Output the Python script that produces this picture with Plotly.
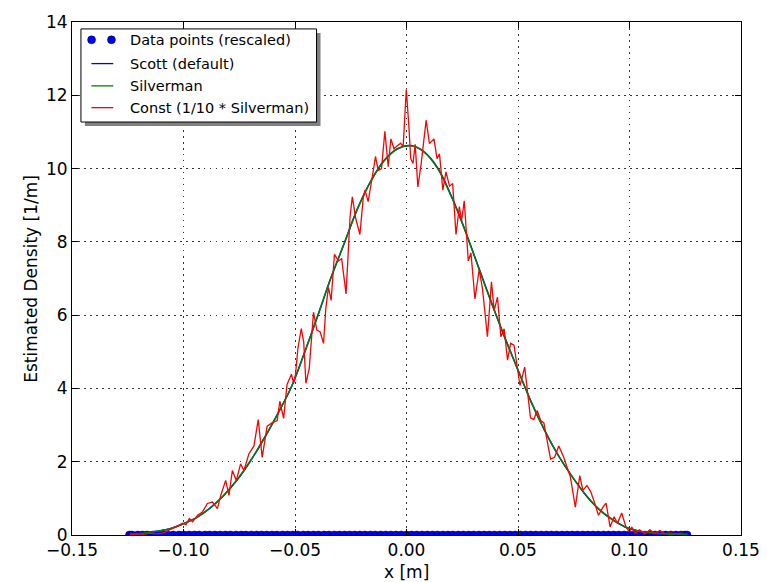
import plotly.graph_objects as go

# ---------------- data ----------------
data_x = [-0.1242, -0.1231, -0.1205, -0.1184, -0.1163, -0.1137, -0.1112, -0.1090, -0.1071, -0.1046,
          -0.1020, -0.0998, -0.0975, -0.0951, -0.0930, -0.0904, -0.0883, -0.0859, -0.0836, -0.0812,
          -0.0790, -0.0765, -0.0741, -0.0720, -0.0696, -0.0672, -0.0650, -0.0627, -0.0603, -0.0581,
          -0.0556, -0.0533, -0.0510, -0.0488, -0.0463, -0.0441, -0.0417, -0.0395, -0.0370, -0.0348,
          -0.0324, -0.0301, -0.0278, -0.0255, -0.0232, -0.0209, -0.0186, -0.0162, -0.0140, -0.0116,
          -0.0093, -0.0070, -0.0047, -0.0024, 0.0000, 0.0023, 0.0046, 0.0070, 0.0093, 0.0116,
          0.0139, 0.0163, 0.0186, 0.0208, 0.0232, 0.0255, 0.0279, 0.0301, 0.0325, 0.0348,
          0.0371, 0.0394, 0.0418, 0.0441, 0.0464, 0.0487, 0.0511, 0.0534, 0.0557, 0.0580,
          0.0604, 0.0627, 0.0650, 0.0673, 0.0697, 0.0720, 0.0743, 0.0766, 0.0790, 0.0813,
          0.0836, 0.0859, 0.0883, 0.0906, 0.0929, 0.0952, 0.0976, 0.0999, 0.1022, 0.1045,
          0.1069, 0.1092, 0.1115, 0.1138, 0.1162, 0.1185, 0.1208, 0.1231, 0.1248, 0.1258]
data_y = [0.0] * len(data_x)

smooth_x = [-0.124, -0.118, -0.112, -0.106, -0.100, -0.094, -0.088, -0.082, -0.076, -0.070,
            -0.064, -0.058, -0.052, -0.046, -0.040, -0.034, -0.028, -0.022, -0.016, -0.010,
            -0.004, 0.002, 0.008, 0.014, 0.020, 0.026, 0.032, 0.038, 0.044, 0.050,
            0.056, 0.062, 0.068, 0.074, 0.080, 0.086, 0.092, 0.098, 0.104, 0.110,
            0.116, 0.122, 0.126]
scott_y = [0.02, 0.05, 0.10, 0.17, 0.31, 0.48, 0.74, 1.08, 1.50, 2.02,
           2.62, 3.28, 3.99, 4.93, 5.95, 7.00, 7.95, 8.90, 9.66, 10.22,
           10.54, 10.63, 10.45, 10.02, 9.27, 8.36, 7.36, 6.36, 5.40, 4.50,
           3.62, 2.85, 2.18, 1.62, 1.12, 0.72, 0.43, 0.22, 0.11, 0.06,
           0.03, 0.02, 0.02]
silverman_y = [0.02, 0.05, 0.10, 0.17, 0.31, 0.48, 0.74, 1.08, 1.50, 2.02,
               2.62, 3.28, 3.99, 4.93, 5.95, 7.00, 7.95, 8.90, 9.66, 10.22,
               10.54, 10.62, 10.45, 10.00, 9.25, 8.35, 7.35, 6.35, 5.40, 4.50,
               3.62, 2.85, 2.18, 1.62, 1.12, 0.72, 0.43, 0.22, 0.11, 0.06,
               0.03, 0.02, 0.02]

const_x = [-0.1240, -0.1210, -0.1180, -0.1150, -0.1120, -0.1090, -0.1063, -0.1033, -0.1004, -0.0989,
           -0.0974, -0.0959, -0.0937, -0.0915, -0.0893, -0.0870, -0.0848, -0.0833, -0.0811, -0.0796,
           -0.0781, -0.0763, -0.0744, -0.0729, -0.0707, -0.0684, -0.0665, -0.0647, -0.0625, -0.0603,
           -0.0580, -0.0568, -0.0551, -0.0536, -0.0516, -0.0506, -0.0498, -0.0487, -0.0472, -0.0461,
           -0.0451, -0.0436, -0.0417, -0.0402, -0.0387, -0.0372, -0.0362, -0.0350, -0.0338, -0.0323,
           -0.0305, -0.0291, -0.0271, -0.0253, -0.0243, -0.0228, -0.0209, -0.0194, -0.0186, -0.0172,
           -0.0157, -0.0139, -0.0127, -0.0112, -0.0097, -0.0082, -0.0070, -0.0056, -0.0041, -0.0026,
           -0.0015, -0.0001, 0.0010, 0.0019, 0.0029, 0.0039, 0.0051, 0.0066, 0.0088, 0.0103,
           0.0123, 0.0137, 0.0148, 0.0163, 0.0177, 0.0193, 0.0207, 0.0222, 0.0237, 0.0247,
           0.0259, 0.0277, 0.0289, 0.0307, 0.0326, 0.0341, 0.0363, 0.0381, 0.0393, 0.0408,
           0.0423, 0.0438, 0.0453, 0.0467, 0.0482, 0.0500, 0.0509, 0.0530, 0.0542, 0.0556,
           0.0571, 0.0586, 0.0601, 0.0616, 0.0646, 0.0664, 0.0683, 0.0705, 0.0735, 0.0757,
           0.0777, 0.0791, 0.0809, 0.0827, 0.0842, 0.0861, 0.0881, 0.0895, 0.0913, 0.0931,
           0.0946, 0.0965, 0.0984, 0.1000, 0.1010, 0.1025, 0.1044, 0.1069, 0.1091, 0.1113,
           0.1136, 0.1158, 0.1180, 0.1210, 0.1240]
const_y = [0.01, 0.03, 0.02, 0.05, 0.03, 0.06, 0.14, 0.22, 0.32, 0.28,
           0.45, 0.36, 0.54, 0.63, 0.86, 0.90, 0.72, 1.08, 1.49, 1.08,
           1.76, 1.49, 1.94, 1.76, 2.21, 2.43, 3.15, 2.12, 2.97, 3.06,
           3.12, 3.65, 3.18, 4.10, 4.39, 4.14, 4.37, 5.09, 5.63, 5.27,
           4.14, 4.55, 6.08, 5.59, 5.54, 5.23, 6.17, 6.76, 6.40, 7.66,
           7.48, 7.54, 6.58, 8.69, 9.23, 8.65, 8.20, 9.20, 9.41, 9.10,
           9.64, 10.33, 9.95, 10.00, 11.02, 10.05, 10.81, 10.54, 10.62, 10.69,
           10.60, 12.16, 11.22, 10.27, 10.14, 10.66, 9.50, 10.14, 11.32, 10.68,
           10.81, 10.27, 10.40, 9.41, 9.91, 9.52, 9.59, 8.20, 8.96, 8.58,
           9.12, 7.48, 7.70, 6.44, 7.25, 6.71, 5.41, 6.91, 6.13, 6.49,
           5.41, 5.63, 4.77, 5.23, 5.18, 4.35, 4.08, 4.58, 4.00, 3.20,
           3.15, 3.40, 3.13, 3.06, 2.07, 2.12, 2.43, 2.12, 1.58, 0.76,
           1.62, 1.22, 1.35, 1.17, 0.90, 0.54, 0.76, 0.87, 0.22, 0.50,
           0.32, 0.60, 0.22, 0.09, 0.22, 0.05, 0.14, 0.03, 0.14, 0.04,
           0.12, 0.03, 0.06, 0.03, 0.05]

x_ticks = [-0.15, -0.10, -0.05, 0.00, 0.05, 0.10, 0.15]
y_ticks = [0, 2, 4, 6, 8, 10, 12, 14]

legend_labels = ["Data points (rescaled)", "Scott (default)", "Silverman", "Const (1/10 * Silverman)"]
legend_colors = ["#0000ff", "#0000ff", "#008000", "#ff0000"]

# ---------------- figure ----------------
W, H = 772, 582
L, R, T, B = 72, 27, 17, 47
PW, PH = W - L - R, H - T - B
FONT = "DejaVu Sans"


def px(xp):
    return (xp - L) / PW


def py(yp):
    return (H - B - yp) / PH


fig = go.Figure()
fig.add_trace(go.Scatter(x=data_x, y=data_y, mode="markers",
                         marker=dict(size=8, color="#0000ff", line=dict(color="black", width=0.5)),
                         name=legend_labels[0]))
fig.add_trace(go.Scatter(x=smooth_x, y=scott_y, mode="lines", line=dict(color="#0000ff", width=1.5, shape="spline"),
                         name=legend_labels[1]))
fig.add_trace(go.Scatter(x=smooth_x, y=silverman_y, mode="lines", line=dict(color="#008000", width=1.5, shape="spline"),
                         name=legend_labels[2]))
fig.add_trace(go.Scatter(x=const_x, y=const_y, mode="lines", line=dict(color="#ff0000", width=1.3),
                         name=legend_labels[3]))

axis_common = dict(showline=True, linecolor="black", linewidth=1, mirror="ticks",
                   ticks="inside", ticklen=6, tickcolor="black", tickwidth=1,
                   showgrid=True, gridcolor="rgba(0,0,0,0.8)", gridwidth=1, griddash="1.5px,4.5px",
                   zeroline=False, tickfont=dict(family=FONT, size=17, color="black"))

fig.update_xaxes(range=[-0.15, 0.15], tickvals=x_ticks, tickformat=".2f", **axis_common)
fig.update_yaxes(range=[0, 14], tickvals=y_ticks, **axis_common)

shapes = []
annotations = []
# legend shadow and box
lx0, ly0, lx1, ly1 = 81, 24, 318, 118
shapes.append(dict(type="rect", xref="paper", yref="paper", x0=px(lx0 + 4), x1=px(lx1 + 4),
                   y0=py(ly1 + 4), y1=py(ly0 + 4), fillcolor="#808080", line=dict(width=0), layer="above"))
shapes.append(dict(type="rect", xref="paper", yref="paper", x0=px(lx0), x1=px(lx1),
                   y0=py(ly1), y1=py(ly0), fillcolor="white", line=dict(color="black", width=1), layer="above"))
rows = [35, 59, 81.5, 103.5]
# two dots for data points
for cx in (91.7, 111.7):
    shapes.append(dict(type="circle", xref="paper", yref="paper", x0=px(cx - 4), x1=px(cx + 4),
                       y0=py(rows[0] + 4), y1=py(rows[0] - 4), fillcolor="#0000ff",
                       line=dict(color="black", width=0.5), layer="above"))
for i in range(1, 4):
    shapes.append(dict(type="line", xref="paper", yref="paper", x0=px(91.5), x1=px(113.5),
                       y0=py(rows[i]), y1=py(rows[i]), line=dict(color=legend_colors[i], width=1.3),
                       layer="above"))
for i, lab in enumerate(legend_labels):
    annotations.append(dict(text=lab, xref="paper", yref="paper", x=px(128.5), y=py(rows[i]),
                            xanchor="left", yanchor="middle", showarrow=False,
                            font=dict(family=FONT, size=14.5, color="black")))

annotations.append(dict(text="x [m]", xref="paper", yref="paper", x=px(408.5), y=py(572),
                        xanchor="center", yanchor="middle", showarrow=False,
                        font=dict(family=FONT, size=17, color="black")))
annotations.append(dict(text="Estimated Density [1/m]", xref="paper", yref="paper", x=px(30), y=py(276),
                        xanchor="center", yanchor="middle", showarrow=False, textangle=-90,
                        font=dict(family=FONT, size=17, color="black")))

fig.update_layout(width=W, height=H, margin=dict(l=L, r=R, t=T, b=B, pad=0),
                  paper_bgcolor="white", plot_bgcolor="white", showlegend=False,
                  shapes=shapes, annotations=annotations,
                  font=dict(family=FONT, size=17, color="black"))

fig.write_html("out.html")
